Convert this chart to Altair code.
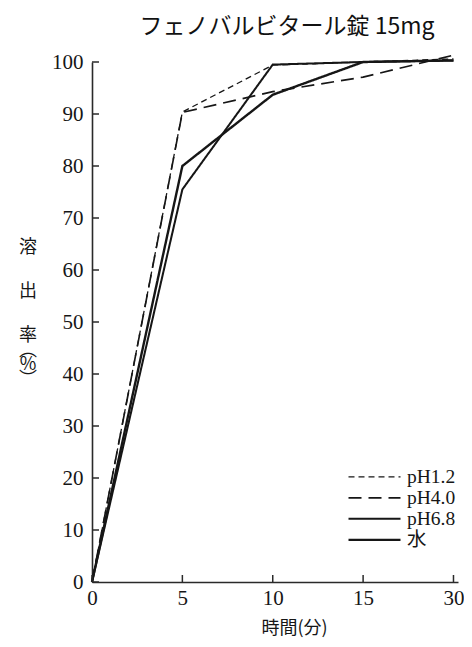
import altair as alt
import pandas as pd

times = [0, 5, 10, 15, 30]
series_names = ["pH1.2", "pH4.0", "pH6.8", "水"]
ph12 = [0, 90.4, 99.4, 100.0, 100.6]
ph40 = [0, 90.3, 94.3, 97.1, 101.3]
ph68 = [0, 75.5, 99.5, 100.0, 100.3]
water = [0, 80.0, 93.7, 100.0, 100.3]
y_ticks = list(range(0, 101, 10))
y_title_parts = ["溶", "出", ["率", "︵", "%", "︶"]]

rows = []
for name, vals in zip(series_names, [ph12, ph40, ph68, water]):
    for i, (t, v) in enumerate(zip(times, vals)):
        rows.append({"series": name, "time": t, "pos": i, "value": v})
df = pd.DataFrame(rows)
xt = pd.DataFrame({"pos": list(range(len(times)))})
yt = pd.DataFrame({"value": y_ticks})

label_expr = "[" + ",".join("'%s'" % t for t in times) + "][datum.value]"

serif = "Liberation Serif, Noto Sans CJK JP"
cjk = "Noto Sans CJK JP"
ink = "#161616"
axc = "#2a2a2a"
W, H = 366, 520

xscale = alt.Scale(domain=[0, 4.05], nice=False)
yscale = alt.Scale(domain=[0, 100], nice=False)

legend = alt.Legend(
    orient="none", legendX=255, legendY=405, title=None,
    symbolType="stroke", symbolSize=2704, clipHeight=19.7,
    labelFont=serif, labelFontSize=19.5, labelColor=ink, labelOffset=5,
    rowPadding=0, padding=0, symbolStrokeColor=ink,
)

lines = alt.Chart(df).mark_line(color=ink).encode(
    x=alt.X("pos:Q", scale=xscale,
            axis=alt.Axis(values=list(range(len(times))), labelExpr=label_expr, grid=False,
                          ticks=False, labelFlush=False,
                          title="時間(分)", titleFont=cjk, titleFontSize=18,
                          titleFontWeight="normal", titleColor=ink,
                          titleX=202, titleY=46, titleAlign="center", titleBaseline="middle",
                          labelFont=serif, labelFontSize=21, labelColor=ink,
                          labelPadding=5,
                          domainColor=axc, domainWidth=1.6)),
    y=alt.Y("value:Q", scale=yscale,
            axis=alt.Axis(values=y_ticks, grid=False, ticks=False, title=None,
                          labelFlush=False,
                          labelFont=serif, labelFontSize=21, labelColor=ink,
                          labelPadding=9,
                          domainColor=axc, domainWidth=1.6)),
    strokeDash=alt.StrokeDash("series:N",
                              scale=alt.Scale(domain=series_names,
                                              range=[[6, 4], [13, 7], [1, 0], [1, 0]]),
                              legend=legend),
    strokeWidth=alt.StrokeWidth("series:N",
                                scale=alt.Scale(domain=series_names, range=[1.3, 2.4, 1.3, 3.0]),
                                legend=legend),
    detail="series:N",
    order="pos:Q",
)

xticks = alt.Chart(xt).mark_rule(color=axc, strokeWidth=1.5).encode(
    x=alt.X("pos:Q", scale=xscale),
    y=alt.value(H),
    y2=alt.value(H - 7),
)
yticks = alt.Chart(yt).mark_rule(color=axc, strokeWidth=1.5).encode(
    y=alt.Y("value:Q", scale=yscale),
    x=alt.value(0),
    x2=alt.value(7),
)


def title_piece(txt, top):
    return alt.Chart(alt.Data(values=[{}])).mark_text(
        text=txt, font=cjk, fontSize=18, color=ink, lineHeight=14.5,
        align="center", baseline="top",
    ).encode(x=alt.value(-64), y=alt.value(top))


ytitle = [title_piece(y_title_parts[0], 177),
          title_piece(y_title_parts[1], 221),
          title_piece(y_title_parts[2], 265)]

chart = alt.layer(lines, xticks, yticks, *ytitle).properties(
    width=W, height=H,
    title=alt.Title("フェノバルビタール錠 15mg", font=cjk, fontSize=23, fontWeight="normal",
                    color="#111", anchor="middle", dx=12, offset=12),
    autosize=alt.AutoSizeParams(type="none"),
    padding={"left": 84, "top": 54, "right": 6, "bottom": 57},
).configure_view(stroke=None)

chart.save("out.html", embed_options={"renderer": "svg", "actions": False})
